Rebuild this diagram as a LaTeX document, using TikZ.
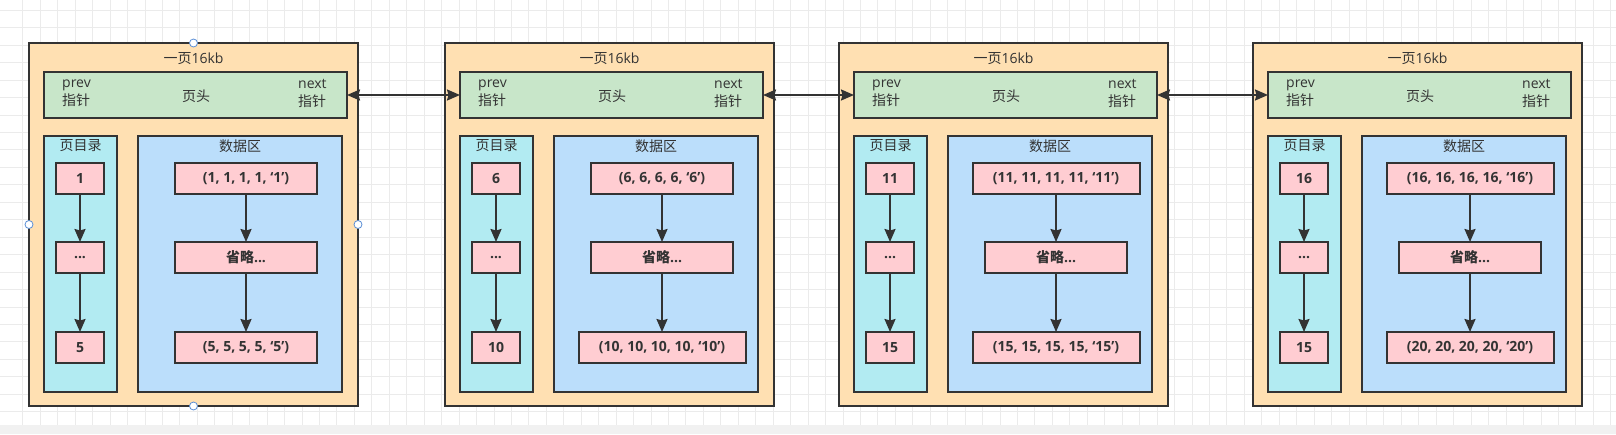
\documentclass[tikz,border=0pt]{standalone}
\usepackage{fontspec}
\setmainfont{Open Sans}
\newfontfamily\cjk{Noto Sans CJK SC}
\usetikzlibrary{arrows.meta}
\definecolor{linec}{HTML}{333333}
\definecolor{txtc}{HTML}{333333}
\definecolor{pagefill}{HTML}{FFE0B2}
\definecolor{hdrfill}{HTML}{C8E6C9}
\definecolor{dirfill}{HTML}{B2EBF2}
\definecolor{datafill}{HTML}{BBDEFB}
\definecolor{pinkfill}{HTML}{FFCDD2}
\definecolor{gridc}{HTML}{EBEBEB}
\definecolor{stripc}{HTML}{F1F1F1}
\definecolor{handlec}{HTML}{5B8FD6}
\tikzset{
  box/.style={draw=linec, line width=2pt, outer sep=0pt, inner sep=0pt, anchor=north west},
  pink/.style={draw=linec, line width=2pt, outer sep=0pt, inner sep=0pt, fill=pinkfill,
     minimum height=31pt, text=txtc, font=\fontsize{14}{16}\selectfont\bfseries},
  txt/.style={inner sep=0pt, text=txtc, font=\fontsize{14}{18}\selectfont},
  varr/.style={draw=linec, line width=2pt, -{Stealth[length=13pt,width=11pt,inset=1.5pt]}},
  harr/.style={draw=linec, line width=2pt, {Stealth[length=13pt,width=11pt,inset=1.5pt]}-{Stealth[length=13pt,width=11pt,inset=1.5pt]}},
  handle/.style={circle, draw=handlec, fill=white, line width=0.8pt, minimum size=8pt, inner sep=0pt},
}
% #1 prefix, #2 x0, #3 dir1, #4 dir3, #5 data1, #6 width1, #7 data3, #8 width3
\newcommand\drawpage[8]{%
  \node[box, fill=pagefill, minimum width=329pt, minimum height=363pt] (#1page) at (#2,43) {};
  \node[txt] (#1title) at (#2+164.5,59) {{\cjk 一页}16kb};
  \node[box, fill=hdrfill, minimum width=303pt, minimum height=46pt] (#1hdr) at (#2+15,72) {};
  \node[txt, anchor=west, align=left] (#1prev) at (#2+33,93) {prev\\{\cjk 指针}};
  \node[txt] (#1hlbl) at (#2+167,96) {\cjk 页头};
  \node[txt, anchor=west, align=left] (#1next) at (#2+269,93) {next\\{\cjk 指针}};
  \node[box, fill=dirfill, minimum width=73pt, minimum height=256pt] (#1dir) at (#2+15,136) {};
  \node[txt] (#1dirl) at (#2+51.5,146) {\cjk 页目录};
  \node[box, fill=datafill, minimum width=204pt, minimum height=256pt] (#1data) at (#2+109,136) {};
  \node[txt] (#1datal) at (#2+211,146) {\cjk 数据区};
  \node[pink, minimum width=48pt] (#1d1) at (#2+51,178.5) {#3};
  \node[pink, minimum width=48pt] (#1d2) at (#2+51,257.5) {...};
  \node[pink, minimum width=48pt] (#1d3) at (#2+51,347.5) {#4};
  \node[pink, minimum width=#6] (#1r1) at (#2+217,178.5) {#5};
  \node[pink, minimum width=142pt] (#1r2) at (#2+217,257.5) {{\cjk 省略}...};
  \node[pink, minimum width=#8] (#1r3) at (#2+217,347.5) {#7};
  \draw[varr] (#1d1) -- (#1d2);
  \draw[varr] (#1d2) -- (#1d3);
  \draw[varr] (#1r1) -- (#1r2);
  \draw[varr] (#1r2) -- (#1r3);
}
\begin{document}
\begin{tikzpicture}[x=1pt,y=-1pt]
\useasboundingbox (0,0) rectangle (1616,434);
\fill[white] (0,0) rectangle (1616,434);
\foreach \i in {0,...,91} \draw[gridc, line width=0.7pt] ({22.7+17.45*\i},0) -- ({22.7+17.45*\i},425);
\foreach \j in {0,...,23} \draw[gridc, line width=0.7pt] (0,{10.2+17.45*\j}) -- (1616,{10.2+17.45*\j});
\fill[stripc] (0,425) rectangle (1616,434);

\drawpage{p1}{29}{1}{5}{(1, 1, 1, 1, `1')}{142pt}{(5, 5, 5, 5, `5')}{142pt}
\drawpage{p2}{445}{6}{10}{(6, 6, 6, 6, `6')}{142pt}{(10, 10, 10, 10, `10')}{167pt}
\drawpage{p3}{839}{11}{15}{(11, 11, 11, 11, `11')}{167pt}{(15, 15, 15, 15, `15')}{167pt}
\drawpage{p4}{1253}{16}{15}{(16, 16, 16, 16, `16')}{167pt}{(20, 20, 20, 20, `20')}{167pt}

\draw[harr] (p1hdr.east) -- (p2hdr.west);
\draw[harr] (p2hdr.east) -- (p3hdr.west);
\draw[harr] (p3hdr.east) -- (p4hdr.west);

\node[handle] (hn) at (p1page.north) {};
\node[handle] (hs) at (p1page.south) {};
\node[handle] (hw) at (p1page.west) {};
\node[handle] (he) at (p1page.east) {};
\end{tikzpicture}
\end{document}
